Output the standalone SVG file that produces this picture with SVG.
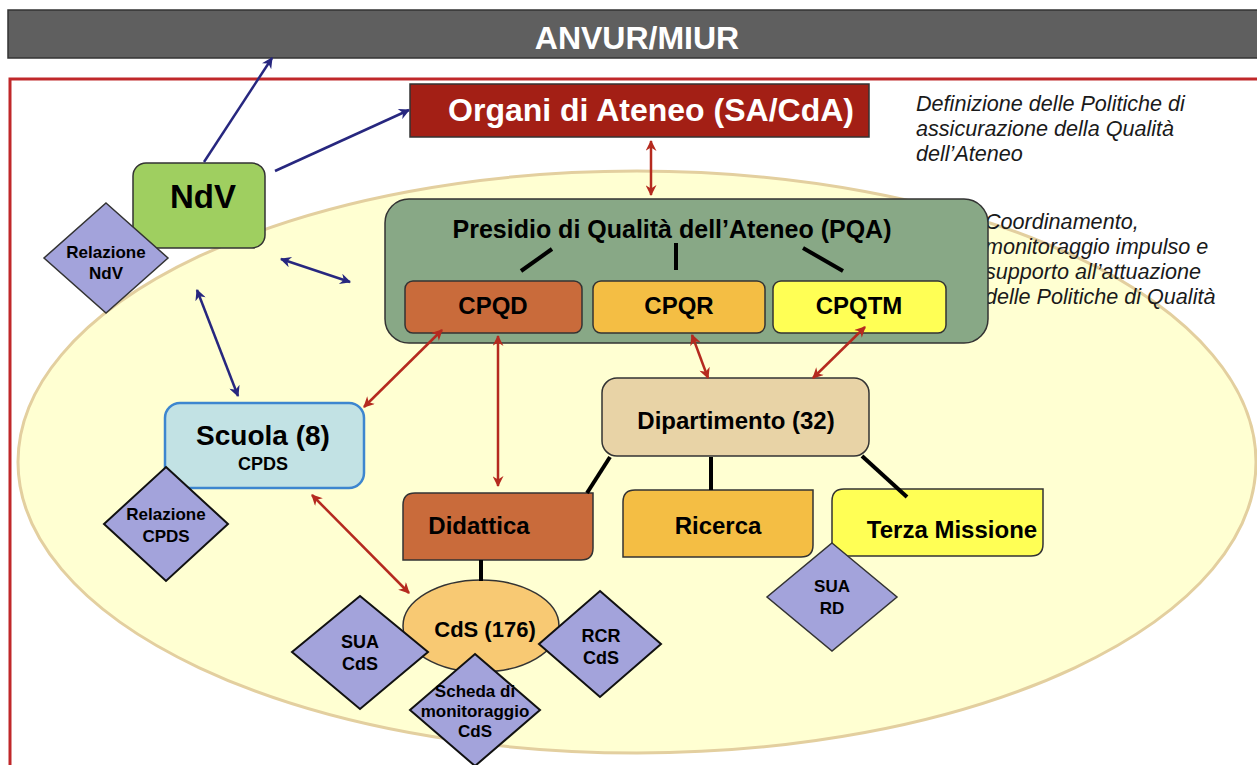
<svg xmlns="http://www.w3.org/2000/svg" width="1257" height="765" viewBox="0 0 1257 765">
<defs>
<style>
text{font-family:"Liberation Sans",Arial,sans-serif;font-weight:bold;text-anchor:middle;fill:#000}
.it{font-style:italic;font-weight:normal;text-anchor:start;fill:#1a1a1a;font-size:21.6px}
.w{fill:#fff}
.dia{fill:#a3a3db;stroke:#111;stroke-width:2}
.box{stroke:#333;stroke-width:1.5}
.blue{stroke:#27277f;stroke-width:2.5;fill:none}
.red{stroke:#b52a1f;stroke-width:2.5;fill:none}
.blk{stroke:#000;stroke-width:4;fill:none}
</style>
<marker id="ab" viewBox="0 0 10 10" refX="9" refY="5" markerWidth="13" markerHeight="11" markerUnits="userSpaceOnUse" orient="auto-start-reverse"><path d="M0,0 L10,5 L0,10 L3,5 z" fill="#27277f"/></marker>
<marker id="ar" viewBox="0 0 10 10" refX="9" refY="5" markerWidth="13" markerHeight="11" markerUnits="userSpaceOnUse" orient="auto-start-reverse"><path d="M0,0 L10,5 L0,10 L3,5 z" fill="#b52a1f"/></marker>
</defs>
<rect width="1257" height="765" fill="#fff"/>

<g id="anvur">
<rect x="8" y="10" width="1260" height="48" fill="#5f5f5f" stroke="#333" stroke-width="1.5"/>
<text x="637" y="49" font-size="32" class="w">ANVUR/MIUR</text>
</g>

<rect id="frame" x="10" y="79" width="1262" height="700" fill="none" stroke="#c0282a" stroke-width="3"/>

<ellipse id="ateneo-area" cx="637" cy="462" rx="619" ry="291" fill="#ffffd2" stroke="#e3cf9f" stroke-width="3"/>

<g id="notes">
<text class="it" x="916" y="111">Definizione delle Politiche di</text>
<text class="it" x="916" y="136">assicurazione della Qualità</text>
<text class="it" x="916" y="161">dell’Ateneo</text>
<text class="it" x="985" y="229">Coordinamento,</text>
<text class="it" x="985" y="254">monitoraggio impulso e</text>
<text class="it" x="985" y="279">supporto all’attuazione</text>
<text class="it" x="985" y="304">delle Politiche di Qualità</text>
</g>

<g id="organi">
<rect x="410" y="84" width="459" height="53" fill="#a31f15" class="box"/>
<text x="651" y="121" font-size="32" class="w">Organi di Ateneo (SA/CdA)</text>
</g>

<g id="ndv">
<rect x="133" y="163" width="132" height="85" rx="13" fill="#9fcf60" class="box"/>
<text x="203" y="208" font-size="33">NdV</text>
</g>

<g id="relazione-ndv">
<polygon class="dia" style="stroke-width:1.5;stroke:#333" points="106,203 168,258 106,313 44,258"/>
<text x="106" y="258" font-size="17">Relazione</text>
<text x="106" y="279" font-size="17">NdV</text>
</g>

<g id="pqa">
<rect x="385" y="199" width="603" height="144" rx="24" fill="#88a886" class="box"/>
<text x="672" y="238" font-size="25">Presidio di Qualità dell’Ateneo (PQA)</text>
<line class="blk" x1="521" y1="271" x2="552" y2="249"/>
<line class="blk" x1="676" y1="243" x2="676" y2="270"/>
<line class="blk" x1="803" y1="248" x2="843" y2="271"/>
</g>

<g id="cpqd">
<rect x="405" y="281" width="177" height="52" rx="8" fill="#c96b3b" class="box"/>
<text x="493" y="314" font-size="24">CPQD</text>
</g>
<g id="cpqr">
<rect x="593" y="281" width="172" height="52" rx="8" fill="#f4be44" class="box"/>
<text x="679" y="314" font-size="24">CPQR</text>
</g>
<g id="cpqtm">
<rect x="773" y="281" width="173" height="52" rx="8" fill="#ffff55" class="box"/>
<text x="859" y="314" font-size="24">CPQTM</text>
</g>

<g id="dipartimento">
<rect x="602" y="378" width="267" height="78" rx="15" fill="#e8d3a6" class="box"/>
<text x="736" y="429" font-size="24">Dipartimento (32)</text>
</g>

<g id="scuola">
<rect x="165" y="403" width="199" height="85" rx="15" fill="#c2e2e4" stroke="#3d86cf" stroke-width="2.5"/>
<text x="263" y="445" font-size="28">Scuola (8)</text>
<text x="263" y="470" font-size="18">CPDS</text>
</g>

<g id="relazione-cpds">
<polygon class="dia" points="166,467 228,524 166,581 104,524"/>
<text x="166" y="520" font-size="17">Relazione</text>
<text x="166" y="542" font-size="17">CPDS</text>
</g>

<g id="didattica">
<path d="M415,493 H593 V548 Q593,560 581,560 H403 V505 Q403,493 415,493 Z" fill="#c96b3b" class="box"/>
<text x="479" y="534" font-size="24">Didattica</text>
</g>
<g id="ricerca">
<path d="M635,490 H813 V545 Q813,557 801,557 H623 V502 Q623,490 635,490 Z" fill="#f4be44" class="box"/>
<text x="718" y="534" font-size="24">Ricerca</text>
</g>
<g id="terza-missione">
<path d="M844,489 H1043 V544 Q1043,556 1031,556 H832 V501 Q832,489 844,489 Z" fill="#ffff55" class="box"/>
<text x="952" y="538" font-size="24">Terza Missione</text>
</g>

<g id="sua-rd">
<polygon class="dia" style="stroke-width:1.5;stroke:#333" points="832,543 897,597 832,651 767,597"/>
<text x="832" y="592" font-size="17">SUA</text>
<text x="832" y="614" font-size="17">RD</text>
</g>

<g id="cds">
<ellipse cx="481" cy="626" rx="78" ry="46" fill="#f8c973" stroke="#333" stroke-width="1.5"/>
<text x="485" y="637" font-size="22">CdS (176)</text>
</g>

<g id="connectors">
<line class="blue" x1="204" y1="162" x2="272" y2="58" marker-end="url(#ab)"/>
<line class="blue" x1="275" y1="171" x2="409" y2="110" marker-end="url(#ab)"/>
<line class="blue" x1="281" y1="259" x2="350" y2="282" marker-start="url(#ab)" marker-end="url(#ab)"/>
<line class="blue" x1="197" y1="290" x2="238" y2="396" marker-start="url(#ab)" marker-end="url(#ab)"/>
<line class="red" x1="651" y1="141" x2="651" y2="195" marker-start="url(#ar)" marker-end="url(#ar)"/>
<line class="red" x1="442" y1="330" x2="364" y2="407" marker-start="url(#ar)" marker-end="url(#ar)"/>
<line class="red" x1="498" y1="336" x2="498" y2="486" marker-start="url(#ar)" marker-end="url(#ar)"/>
<line class="red" x1="692" y1="335" x2="708" y2="378" marker-start="url(#ar)" marker-end="url(#ar)"/>
<line class="red" x1="865" y1="327" x2="813" y2="378" marker-start="url(#ar)" marker-end="url(#ar)"/>
<line class="red" x1="312" y1="495" x2="409" y2="593" marker-start="url(#ar)" marker-end="url(#ar)"/>
<line class="blk" x1="610" y1="457" x2="587" y2="493"/>
<line class="blk" x1="711" y1="457" x2="711" y2="490"/>
<line class="blk" x1="862" y1="456" x2="907" y2="497"/>
<line class="blk" x1="481" y1="560" x2="481" y2="581"/>
</g>

<g id="sua-cds">
<polygon class="dia" points="360,596 428,652 360,709 292,652"/>
<text x="360" y="648" font-size="18">SUA</text>
<text x="360" y="670" font-size="18">CdS</text>
</g>

<g id="rcr-cds">
<polygon class="dia" points="600,591 661,644 600,697 539,644"/>
<text x="601" y="642" font-size="18">RCR</text>
<text x="601" y="664" font-size="18">CdS</text>
</g>

<g id="scheda-cds">
<polygon class="dia" points="475,654 540,710 475,766 410,710"/>
<text x="475" y="697" font-size="17">Scheda di</text>
<text x="475" y="717" font-size="17">monitoraggio</text>
<text x="475" y="737" font-size="17">CdS</text>
</g>
</svg>
